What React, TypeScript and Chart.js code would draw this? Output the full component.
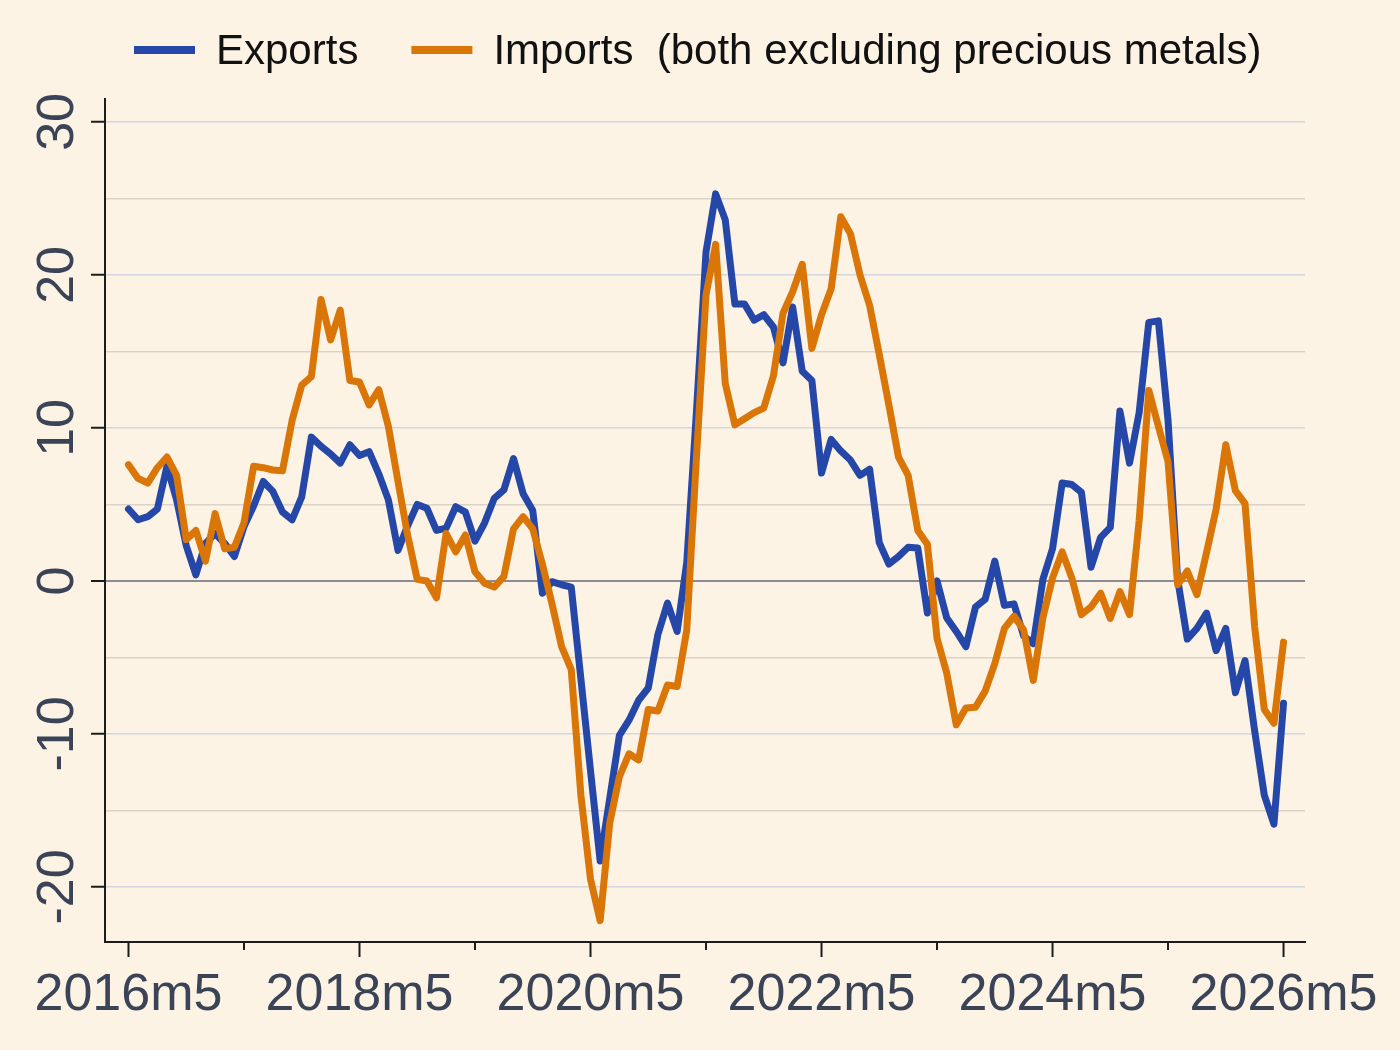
import React, { useEffect, useRef } from "react";
import { Chart, registerables } from "chart.js";

Chart.register(...registerables);

// ---- data (monthly, index 0 = 2016m5) ----
const seriesLabels = ["Exports", "Imports  (both excluding precious metals)"];
const xTickLabels = ["2016m5", "2018m5", "2020m5", "2022m5", "2024m5", "2026m5"];
const xTickValues = [0, 12, 24, 36, 48, 60, 72, 84, 96, 108, 120];
const yTickValues = [-20, -15, -10, -5, 0, 5, 10, 15, 20, 25, 30];

const exportsGrowth = [
  4.7, 4.0, 4.2, 4.7, 7.5, 5.3, 2.3, 0.4, 2.45, 3.1,
  2.45, 1.6, 3.55, 4.9, 6.5, 5.85, 4.5, 4.0, 5.5, 9.4,
  8.8, 8.3, 7.7, 8.9, 8.2, 8.45, 7.0, 5.3, 2.0, 3.6,
  5.0, 4.75, 3.3, 3.45, 4.85, 4.5, 2.6, 3.8, 5.4, 5.95,
  8.0, 5.7, 4.6, -0.8, -0.05, -0.25, -0.4, -6.4, -12.4, -18.3,
  -14.2, -10.1, -9.1, -7.8, -7.0, -3.5, -1.45, -3.3, 1.2, 11.0,
  21.5, 25.3, 23.6, 18.1, 18.1, 17.05, 17.4, 16.6, 14.25, 17.9,
  13.7, 13.1, 7.05, 9.25, 8.5, 7.9, 6.9, 7.3, 2.5, 1.1,
  1.6, 2.2, 2.15, -2.1, 0.0, -2.4, -3.3, -4.3, -1.7, -1.2,
  1.3, -1.6, -1.5, -3.6, -4.1, 0.1, 2.1, 6.4, 6.3, 5.8,
  0.9, 2.85, 3.5, 11.1, 7.7, 11.0, 16.9, 17.0, 10.5, 0.1,
  -3.8, -3.1, -2.1, -4.55, -3.1, -7.3, -5.2, -9.8, -14.0, -15.9,
  -8.0,
];

const importsGrowth = [
  7.6, 6.7, 6.4, 7.4, 8.1, 6.9, 2.7, 3.3, 1.3, 4.4,
  2.1, 2.2, 3.8, 7.5, 7.4, 7.25, 7.2, 10.5, 12.8, 13.35,
  18.4, 15.75, 17.7, 13.1, 13.0, 11.5, 12.5, 10.1, 6.5, 3.0,
  0.1, 0.0, -1.1, 3.1, 1.9, 3.0, 0.6, -0.15, -0.4, 0.3,
  3.4, 4.2, 3.4, 1.1, -1.5, -4.3, -5.8, -14.0, -19.5, -22.2,
  -15.8, -12.8, -11.3, -11.7, -8.4, -8.5, -6.8, -6.9, -3.2, 8.0,
  18.7, 22.0, 12.9, 10.2, 10.6, 11.0, 11.3, 13.4, 17.5, 18.9,
  20.7, 15.2, 17.4, 19.1, 23.8, 22.7, 20.0, 18.0, 14.8, 11.5,
  8.1, 6.9, 3.3, 2.4, -3.75, -6.0, -9.4, -8.3, -8.25, -7.2,
  -5.4, -3.1, -2.3, -3.2, -6.5, -2.4, 0.2, 1.9, 0.2, -2.2,
  -1.7, -0.8, -2.45, -0.7, -2.2, 3.95, 12.45, 10.1, 7.8, -0.25,
  0.65, -0.9, 1.85, 4.7, 8.9, 5.9, 5.05, -3.0, -8.4, -9.3,
  -4.0,
];

// ---- style ----
const COLORS = {
  bg: "#fdf3e5",
  blue: "#2447a8",
  orange: "#da7507",
  axis: "#1c1c1c",
  tickText: "#3a4456",
  gridMajor: "#d2d7e1",
  gridMinor: "#dbd2c8",
  zero: "#8b8b93",
  legendText: "#111111",
};
const FONT = "'Liberation Sans', Arial, Helvetica, sans-serif";

export default function App() {
  const ref = useRef<HTMLCanvasElement>(null);

  useEffect(() => {
    document.body.style.margin = "0";
    document.body.style.background = COLORS.bg;
    const canvas = ref.current;
    if (!canvas) return;

    const bgPlugin = {
      id: "bgFill",
      beforeDraw(chart: any) {
        const { ctx, width, height } = chart;
        ctx.save();
        ctx.fillStyle = COLORS.bg;
        ctx.fillRect(0, 0, width, height);
        ctx.restore();
      },
    };

    const xTickPlugin = {
      id: "xTickMarks",
      afterDraw(chart: any) {
        const s = chart.scales.x;
        const ctx = chart.ctx;
        const y0 = chart.chartArea.bottom;
        ctx.save();
        ctx.strokeStyle = COLORS.axis;
        ctx.lineWidth = 2;
        xTickValues.forEach((v) => {
          const px = s.getPixelForValue(v);
          const len = v % 24 === 0 ? 15 : 8;
          ctx.beginPath();
          ctx.moveTo(px, y0);
          ctx.lineTo(px, y0 + len);
          ctx.stroke();
        });
        ctx.restore();
      },
    };

    const legendPlugin = {
      id: "topLegend",
      afterDraw(chart: any) {
        const ctx = chart.ctx;
        ctx.save();
        ctx.font = `42px ${FONT}`;
        ctx.textBaseline = "alphabetic";
        ctx.textAlign = "left";
        let x = 134;
        chart.data.datasets.forEach((ds: any) => {
          ctx.strokeStyle = ds.borderColor;
          ctx.lineWidth = 8;
          ctx.lineCap = "butt";
          ctx.beginPath();
          ctx.moveTo(x, 50);
          ctx.lineTo(x + 61, 50);
          ctx.stroke();
          const tx = x + 61 + 21;
          ctx.fillStyle = COLORS.legendText;
          ctx.fillText(ds.label, tx, 64);
          x = tx + ctx.measureText(ds.label).width + 53;
        });
        ctx.restore();
      },
    };

    const chart = new Chart(canvas, {
      type: "line",
      data: {
        datasets: [
          {
            label: seriesLabels[0],
            data: exportsGrowth.map((y, i) => ({ x: i, y })),
            borderColor: COLORS.blue,
            backgroundColor: COLORS.blue,
            borderWidth: 7,
            pointRadius: 0,
            tension: 0,
            borderJoinStyle: "round",
            borderCapStyle: "round",
            order: 1,
          },
          {
            label: seriesLabels[1],
            data: importsGrowth.map((y, i) => ({ x: i, y })),
            borderColor: COLORS.orange,
            backgroundColor: COLORS.orange,
            borderWidth: 7,
            pointRadius: 0,
            tension: 0,
            borderJoinStyle: "round",
            borderCapStyle: "round",
            order: 0,
          },
        ],
      },
      options: {
        responsive: false,
        animation: false,
        devicePixelRatio: 1,
        layout: { padding: { top: 99, right: 95, bottom: 0, left: 0 } },
        plugins: {
          legend: { display: false },
          tooltip: { enabled: false },
        },
        scales: {
          x: {
            type: "linear",
            min: -2.44,
            max: 122.23,
            afterBuildTicks: (s: any) => {
              s.ticks = xTickValues.map((v) => ({ value: v }));
            },
            afterFit: (s: any) => {
              s.height = 108;
              s.paddingLeft = 0;
              s.paddingRight = 0;
            },
            grid: { display: false, drawTicks: false },
            border: { display: true, color: COLORS.axis, width: 2 },
            ticks: {
              autoSkip: false,
              maxRotation: 0,
              minRotation: 0,
              padding: 22,
              color: COLORS.tickText,
              font: { family: FONT, size: 52 },
              callback: (v: any) => (v % 24 === 0 ? xTickLabels[v / 24] : ""),
            },
          },
          y: {
            type: "linear",
            min: -23.6,
            max: 31.5,
            afterBuildTicks: (s: any) => {
              s.ticks = yTickValues.map((v) => ({ value: v }));
            },
            afterFit: (s: any) => {
              s.width = 105;
              s.paddingTop = 0;
              s.paddingBottom = 0;
            },
            grid: {
              display: true,
              drawOnChartArea: true,
              drawTicks: true,
              tickLength: 14,
              tickWidth: 2,
              tickColor: (c: any) =>
                c.tick && c.tick.value % 10 === 0 ? COLORS.axis : "rgba(0,0,0,0)",
              color: (c: any) => {
                const v = c.tick ? c.tick.value : 1;
                if (v === 0) return COLORS.zero;
                return v % 10 === 0 ? COLORS.gridMajor : COLORS.gridMinor;
              },
              lineWidth: (c: any) => (c.tick && c.tick.value === 0 ? 2 : 1.5),
            },
            border: { display: true, color: COLORS.axis, width: 2 },
            ticks: {
              autoSkip: false,
              minRotation: 90,
              maxRotation: 90,
              crossAlign: "center",
              padding: -5,
              color: COLORS.tickText,
              font: { family: FONT, size: 52 },
              callback: (v: any) => (v % 10 === 0 ? String(v) : ""),
            },
          },
        },
      },
      plugins: [bgPlugin, xTickPlugin, legendPlugin],
    } as any);

    return () => chart.destroy();
  }, []);

  return (
    <canvas
      ref={ref}
      width={1400}
      height={1050}
      style={{ display: "block", width: 1400, height: 1050 }}
    />
  );
}
